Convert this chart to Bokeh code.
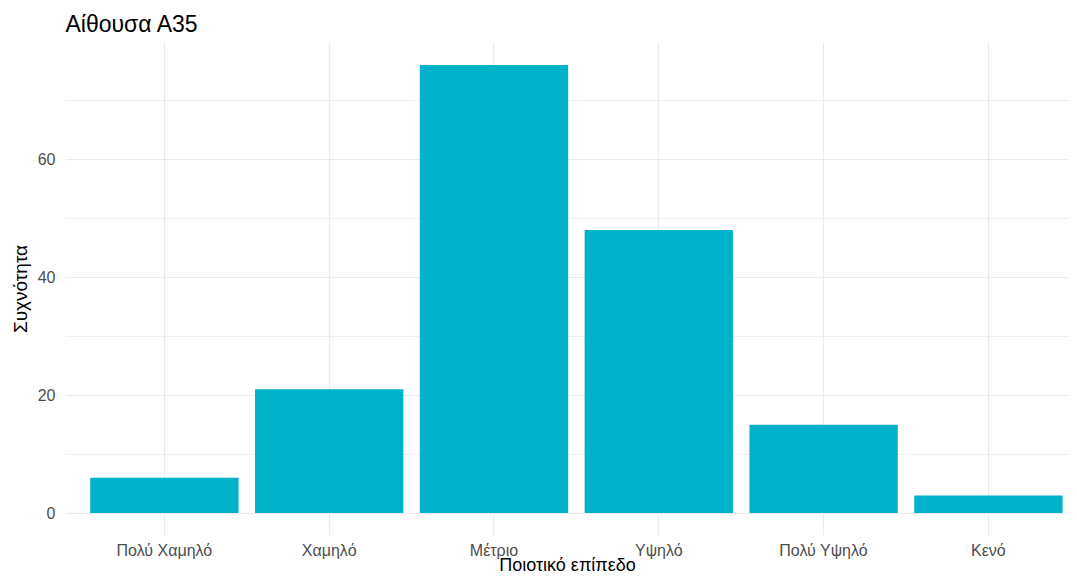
from bokeh.plotting import figure
from bokeh.models import FixedTicker, Range1d
from bokeh.embed import file_html
from bokeh.resources import INLINE

# Data
categories = ["Πολύ Χαμηλό", "Χαμηλό", "Μέτριο", "Υψηλό", "Πολύ Υψηλό", "Κενό"]
counts = [6, 21, 76, 48, 15, 3]
y_ticks = [0, 20, 40, 60]
y_minor = [10, 30, 50, 70]
title_text = "Αίθουσα Α35"
x_title = "Ποιοτικό επίπεδο"
y_title = "Συχνότητα"

positions = list(range(1, len(categories) + 1))

FONT = "Liberation Sans"
GRID = "#EBEBEB"

p = figure(
    width=1069, height=577,
    output_backend="svg", toolbar_location=None,
    x_range=Range1d(0.4, 6.492), y_range=Range1d(-3.8, 79.8),
    min_border_left=65, min_border_right=0, min_border_top=42, min_border_bottom=42,
    title=title_text,
)
p.outline_line_color = None
p.background_fill_color = "white"
p.border_fill_color = "white"

p.title.text_font = FONT
p.title.text_font_size = "23px"
p.title.text_font_style = "normal"
p.title.text_color = "black"
p.title.offset = 0
p.title.standoff = 12

p.vbar(x=positions, top=counts, bottom=0, width=0.9,
       fill_color="#00B3CA", line_color=None)

# x axis
p.xaxis.ticker = FixedTicker(ticks=positions)
p.xaxis.major_label_overrides = {i: c for i, c in zip(positions, categories)}
p.xaxis.axis_label = x_title

# y axis
p.yaxis.ticker = FixedTicker(ticks=y_ticks, minor_ticks=y_minor)
p.yaxis.axis_label = y_title

for ax in (p.xaxis, p.yaxis):
    ax.axis_line_color = None
    ax.major_tick_line_color = None
    ax.minor_tick_line_color = None
    ax.major_tick_out = 0
    ax.major_tick_in = 0
    ax.minor_tick_out = 0
    ax.minor_tick_in = 0
    ax.major_label_text_font = FONT
    ax.major_label_text_font_size = "16px"
    ax.major_label_text_color = "#4D4D4D"
    ax.axis_label_text_font = FONT
    ax.axis_label_text_font_size = "19px"
    ax.axis_label_text_font_style = "normal"
    ax.axis_label_text_color = "black"

p.xaxis.axis_label_text_font_size = "18px"
p.xaxis.major_label_standoff = 6
p.xaxis.axis_label_standoff = -7
p.yaxis.major_label_standoff = 10
p.yaxis.axis_label_standoff = 4

p.xgrid.grid_line_color = GRID
p.xgrid.grid_line_width = 1.2
p.ygrid.grid_line_color = GRID
p.ygrid.grid_line_width = 1.2
p.ygrid.minor_grid_line_color = GRID
p.ygrid.minor_grid_line_width = 0.8

open("out.html", "w").write(file_html(p, INLINE))
